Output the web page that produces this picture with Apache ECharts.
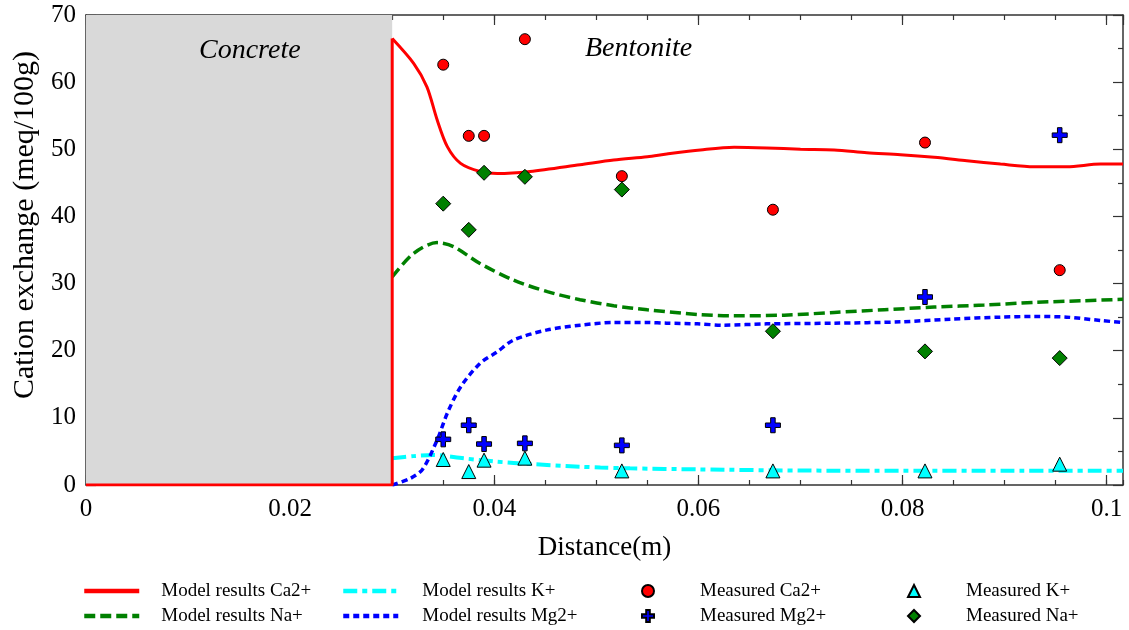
<!DOCTYPE html>
<html>
<head>
<meta charset="utf-8">
<script src="https://cdn.jsdelivr.net/npm/echarts@6/dist/echarts.min.js"></script>
<style>
html,body{margin:0;padding:0;background:#fff;}
#chart{width:1129px;height:630px;}
</style>
</head>
<body>
<div id="chart"></div>
<script>
// ---- axis ranges ----
const X_MIN = 0, X_MAX = 0.1016, X_MAJOR = 0.02, X_MINOR = 0.005;
const Y_MIN = 0, Y_MAX = 70, Y_MAJOR = 10;
const concreteRange = [0, 0.03];

// ---- model results ----
const caConcreteX = [0, 0.03, 0.03];
const caConcreteY = [0, 0, 66.5];
const caModelX = [0.03, 0.0321, 0.0334, 0.0344, 0.0354, 0.0367, 0.0386, 0.0403, 0.0435, 0.0484, 0.0517, 0.0550, 0.0569, 0.0602, 0.0635, 0.0667, 0.0700, 0.0733, 0.0765, 0.0798, 0.0831, 0.0863, 0.0896, 0.0929, 0.0961, 0.0994, 0.1016];
const caModelY = [66.5, 62.8, 59.3, 54.4, 50.4, 47.9, 46.7, 46.4, 46.7, 47.7, 48.4, 48.9, 49.3, 49.9, 50.3, 50.2, 50.0, 49.9, 49.5, 49.2, 48.8, 48.3, 47.8, 47.4, 47.4, 47.8, 47.8];

const naModelX = [0.03, 0.0321, 0.0344, 0.0360, 0.0386, 0.0419, 0.0452, 0.0484, 0.0517, 0.0550, 0.0599, 0.0635, 0.0684, 0.0733, 0.0782, 0.0831, 0.0880, 0.0929, 0.0978, 0.1016];
const naModelY = [31.0, 34.5, 36.1, 35.5, 33.0, 30.5, 28.8, 27.6, 26.7, 26.1, 25.4, 25.2, 25.3, 25.7, 26.1, 26.5, 26.8, 27.2, 27.45, 27.65];

const mgModelX = [0.03, 0.0318, 0.0330, 0.0344, 0.0354, 0.0367, 0.0386, 0.0403, 0.0419, 0.0452, 0.0484, 0.0517, 0.0550, 0.0569, 0.0599, 0.0625, 0.0667, 0.0733, 0.0798, 0.0847, 0.0896, 0.0929, 0.0961, 0.0994, 0.1016];
const mgModelY = [0, 1.0, 2.4, 6.7, 10.7, 14.6, 18.1, 19.85, 21.6, 23.1, 23.8, 24.2, 24.2, 24.1, 24.0, 23.8, 24.0, 24.1, 24.3, 24.7, 25.0, 25.1, 25.0, 24.5, 24.2];

const kModelX = [0.03, 0.0321, 0.0340, 0.0370, 0.0403, 0.0435, 0.0484, 0.0504, 0.0533, 0.0600, 0.0700, 0.0800, 0.0900, 0.1016];
const kModelY = [3.97, 4.3, 4.47, 3.97, 3.47, 3.13, 2.73, 2.6, 2.48, 2.33, 2.15, 2.13, 2.13, 2.13];

// ---- measured ----
const measX   = [0.0350, 0.0375, 0.0390, 0.0430, 0.0525, 0.0673, 0.0822, 0.0954];
const measCaY = [62.6, 52.0, 52.0, 66.4, 46.0, 41.0, 51.0, 32.0];
const measMgY = [6.8, 8.9, 6.1, 6.2, 5.9, 8.9, 28.0, 52.1];
const measNaY = [41.9, 38.0, 46.5, 45.9, 44.0, 22.9, 19.9, 18.9];
const measKY  = [3.8, 2.0, 3.7, 4.0, 2.1, 2.1, 2.1, 3.1];

const regionLabels = ['Concrete', 'Bentonite'];
const legendNames = ['Model results Ca2+', 'Model results Na+', 'Model results K+', 'Model results Mg2+',
                     'Measured Ca2+', 'Measured Mg2+', 'Measured K+', 'Measured Na+'];

function zip(xs, ys) { return xs.map((x, i) => [x, ys[i]]); }

const FONT = 'Liberation Serif';
const AX = '#333';
const plusPath = 'path://M35,0H65V35H100V65H65V100H35V65H0V35H35Z';

const chart = echarts.init(document.getElementById('chart'), null, {renderer: 'canvas'});

function xAx(pos, interval, tickLen, showLabel, extra) {
  return Object.assign({
    type: 'value', min: X_MIN, max: X_MAX, interval: interval, position: pos,
    axisLine: {show: true, onZero: false, lineStyle: {color: AX, width: 1.5}},
    axisTick: {show: true, inside: true, length: tickLen, lineStyle: {color: AX, width: 1.2}},
    axisLabel: {show: showLabel, showMaxLabel: false, margin: 12, fontFamily: FONT, fontSize: 25, color: '#000'},
    splitLine: {show: false}
  }, extra || {});
}
function yAx(pos, showLabel, extra) {
  return Object.assign({
    type: 'value', min: Y_MIN, max: Y_MAX, interval: Y_MAJOR, position: pos,
    axisLine: {show: true, onZero: false, lineStyle: {color: AX, width: 1.5}},
    axisTick: {show: true, inside: true, length: 10, lineStyle: {color: AX, width: 1.2}},
    minorTick: {show: true, splitNumber: 2, length: 5, lineStyle: {color: AX, width: 1.2}},
    axisLabel: {show: showLabel, margin: 10, fontFamily: FONT, fontSize: 25, color: '#000'},
    splitLine: {show: false}
  }, extra || {});
}

const legendText = {fontFamily: FONT, fontSize: 19, lineHeight: 22, color: '#000'};
function lineLegend(left, names, padLeft) {
  return {
    left: left, top: 575, height: 80, orient: 'vertical',
    data: names.map(n => ({name: n, itemStyle: {opacity: 0}, lineStyle: {width: 4.5}})),
    itemWidth: 55, itemHeight: 14, itemGap: 3, selectedMode: false,
    textStyle: Object.assign({padding: [0, 0, 0, padLeft]}, legendText)
  };
}
function markLegend(left, names, padLeft) {
  return {
    left: left, top: 575, height: 80, orient: 'vertical', data: names,
    itemWidth: 12, itemHeight: 12, itemGap: 3, selectedMode: false,
    textStyle: Object.assign({padding: [0, 0, 0, padLeft]}, legendText)
  };
}

const option = {
  backgroundColor: '#fff',
  animation: false,
  grid: {left: 86, right: 6, top: 15, bottom: 145, containLabel: false},
  xAxis: [
    xAx('bottom', X_MAJOR, 10, true, {
      name: 'Distance(m)', nameLocation: 'middle', nameGap: 49,
      nameTextStyle: {fontFamily: FONT, fontSize: 27, color: '#000'}
    }),
    xAx('bottom', X_MINOR, 5, false, {axisLine: {show: false, onZero: false}}),
    xAx('top', X_MAJOR, 10, false),
    xAx('top', X_MINOR, 5, false, {axisLine: {show: false, onZero: false}})
  ],
  yAxis: [
    yAx('left', true, {
      name: 'Cation exchange (meq/100g)', nameLocation: 'middle', nameGap: 44,
      nameTextStyle: {fontFamily: FONT, fontSize: 30, color: '#000', padding: [0, 0, 0, 50]}
    }),
    yAx('right', false)
  ],
  legend: [
    lineLegend(77, [legendNames[0], legendNames[1]], 17),
    lineLegend(336, [legendNames[2], legendNames[3]], 19),
    markLegend(636, [legendNames[4], legendNames[5]], 41),
    markLegend(902, [legendNames[6], legendNames[7]], 41)
  ],
  graphic: [
    {type: 'text', left: 199, top: 37, z: 50,
     style: {text: regionLabels[0], font: 'italic 28px "Liberation Serif"', fill: '#000'}},
    {type: 'text', left: 585, top: 35, z: 50,
     style: {text: regionLabels[1], font: 'italic 28px "Liberation Serif"', fill: '#000'}}
  ],
  series: [
    {
      name: 'concrete-zone', type: 'line', data: [], z: 0,
      markArea: {silent: true, itemStyle: {color: '#d9d9d9'},
        data: [[{xAxis: concreteRange[0]}, {xAxis: concreteRange[1]}]]}
    },
    {
      name: legendNames[2], type: 'line', data: zip(kModelX, kModelY), smooth: 0.3,
      symbol: 'none', showSymbol: false, z: 3, color: '#00ffff',
      lineStyle: {color: '#00ffff', width: 4, type: [14, 5, 5, 5]}
    },
    {
      name: legendNames[3], type: 'line', data: zip(mgModelX, mgModelY), smooth: 0.3,
      symbol: 'none', showSymbol: false, z: 3, color: '#0000ff',
      lineStyle: {color: '#0000ff', width: 3.5, type: [6, 4]}
    },
    {
      name: legendNames[1], type: 'line', data: zip(naModelX, naModelY), smooth: 0.3,
      symbol: 'none', showSymbol: false, z: 3, color: '#008000',
      lineStyle: {color: '#008000', width: 3.5, type: [11, 5]}
    },
    {
      name: legendNames[0], type: 'line', data: zip(caModelX, caModelY), smooth: 0.3,
      symbol: 'none', showSymbol: false, z: 4, color: '#ff0000',
      lineStyle: {color: '#ff0000', width: 3, type: 'solid'}
    },
    {
      name: legendNames[0], type: 'line', data: zip(caConcreteX, caConcreteY), smooth: false,
      symbol: 'none', showSymbol: false, z: 4, color: '#ff0000',
      lineStyle: {color: '#ff0000', width: 3, type: 'solid'}
    },
    {
      name: legendNames[4], type: 'scatter', data: zip(measX, measCaY), symbol: 'circle', symbolSize: 11, z: 6,
      itemStyle: {color: '#ff0000', borderColor: '#000', borderWidth: 1, opacity: 1}
    },
    {
      name: legendNames[5], type: 'scatter', data: zip(measX, measMgY), symbol: plusPath, symbolSize: 15, z: 6,
      itemStyle: {color: '#0000ff', borderColor: '#000', borderWidth: 1, opacity: 1}
    },
    {
      name: legendNames[6], type: 'scatter', data: zip(measX, measKY), symbol: 'triangle', symbolSize: 14, z: 6,
      itemStyle: {color: '#00ffff', borderColor: '#000', borderWidth: 1, opacity: 1}
    },
    {
      name: legendNames[7], type: 'scatter', data: zip(measX, measNaY), symbol: 'diamond', symbolSize: 15, z: 6,
      itemStyle: {color: '#008000', borderColor: '#000', borderWidth: 1, opacity: 1}
    }
  ]
};
chart.setOption(option);
</script>
</body>
</html>
